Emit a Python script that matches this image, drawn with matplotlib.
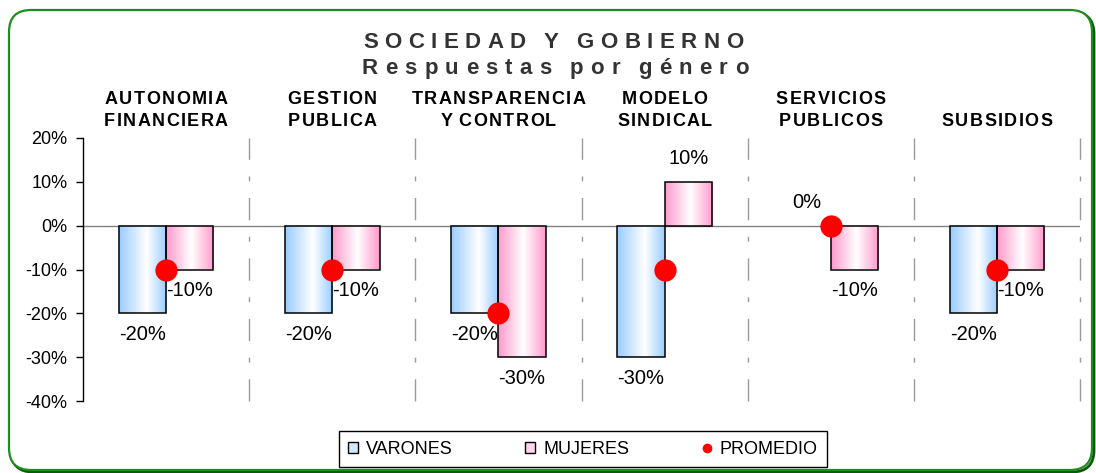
import numpy as np
import matplotlib
matplotlib.use("Agg")
import matplotlib.pyplot as plt
from matplotlib.patches import FancyBboxPatch, Patch
from matplotlib.lines import Line2D
from matplotlib.colors import LinearSegmentedColormap
from matplotlib.transforms import IdentityTransform

plt.rcParams["font.family"] = ["Liberation Sans", "DejaVu Sans"]

# data
categories = ["AUTONOMIA\nFINANCIERA", "GESTION\nPUBLICA", "TRANSPARENCIA\nY CONTROL",
              "MODELO\nSINDICAL", "SERVICIOS\nPUBLICOS", "SUBSIDIOS"]
varones = [-0.20, -0.20, -0.20, -0.30, 0.00, -0.20]
mujeres = [-0.10, -0.10, -0.30, 0.10, -0.10, -0.10]
promedio = [-0.10, -0.10, -0.20, -0.10, 0.00, -0.10]
yticks = [-0.4, -0.3, -0.2, -0.1, 0.0, 0.1, 0.2]
series_names = ["VARONES", "MUJERES", "PROMEDIO"]

W, H = 1096, 473
fig = plt.figure(figsize=(W / 100, H / 100), dpi=100)
fig.patch.set_facecolor("white")
ax = fig.add_axes([83 / W, (H - 401) / H, (1080 - 83) / W, (401 - 138) / H])

blue_cmap = LinearSegmentedColormap.from_list("blu", [(0, "#99ccff"), (0.58, "#ffffff"), (1, "#99ccff")])
pink_cmap = LinearSegmentedColormap.from_list("pnk", [(0, "#ff99cc"), (0.53, "#ffffff"), (1, "#ff99cc")])
grad = np.linspace(0, 1, 256).reshape(1, -1)

bw = 0.285
x = np.arange(len(categories)) + 0.5


def gradient_bars(xpos, vals, cmap):
    bars = ax.bar(xpos, vals, width=bw, align="edge", facecolor="none",
                  edgecolor="black", linewidth=1.1, zorder=3)
    for b in bars:
        x0, y0 = b.get_x(), b.get_y()
        if b.get_height() == 0:
            b.set_linewidth(0)
            continue
        im = ax.imshow(grad, cmap=cmap, aspect="auto", interpolation="bicubic",
                       extent=[x0, x0 + b.get_width(), y0, y0 + b.get_height()], zorder=2)
        im.set_clip_path(b)
    return bars


gradient_bars(x - bw, varones, blue_cmap)
gradient_bars(x, mujeres, pink_cmap)

ax.plot(x, promedio, linestyle="none", marker="o", markersize=16,
        color="#ff0000", markeredgewidth=0, zorder=5)

# data labels
for xs, vals in ((x - bw / 2, varones), (x + bw / 2, mujeres)):
    for xi, v in zip(xs, vals):
        off = 16.5 if v >= 0 else -15
        ax.annotate(f"{v * 100:.0f}%", (xi, v), xytext=(0, off), textcoords="offset points",
                    ha="center", va="center", fontsize=14.5, zorder=6)

ax.axhline(0, color="#808080", linewidth=1, zorder=1)
ax.vlines(np.arange(1, len(categories) + 1), -0.4, 0.2, colors="#9a9a9a", linewidth=1,
          linestyles=[(0, (16, 12, 3.5, 12))], clip_on=False, zorder=1)

ax.set_xlim(0, len(categories))
ax.set_ylim(-0.4, 0.2)
ax.set_yticks(yticks)
ax.set_yticklabels([f"{v * 100:.0f}%" for v in yticks])
ax.tick_params(axis="y", direction="out", length=5, width=1, pad=6, labelsize=13)
ax.tick_params(axis="x", bottom=False, labelbottom=False)
for s in ("top", "right", "bottom"):
    ax.spines[s].set_visible(False)
ax.spines["left"].set_linewidth(1)
ax.patch.set_alpha(0)


def tracked(s, xc, ybase, size, gap, word, **kw):
    # lay out one line letter by letter, with extra spacing, centred on xc (pixels)
    r = fig.canvas.get_renderer()
    items, cur, prev = [], 0.0, False
    for ch in s:
        if ch == " ":
            cur += word
            prev = False
            continue
        t = fig.text(0, 0, ch, fontsize=size, transform=IdentityTransform(),
                     ha="left", va="baseline", **kw)
        w = t.get_window_extent(r).width
        if prev:
            cur += gap
        items.append((t, cur))
        cur += w
        prev = True
    x0 = xc - cur / 2
    for t, pos in items:
        t.set_position((x0 + pos, H - ybase))


tracked("SOCIEDAD Y GOBIERNO", 553, 48, 16, 6.5, 18, fontweight="bold", color="#333333")
tracked("Respuestas por género", 555, 74, 16, 7.3, 18, fontweight="bold", color="#333333")

# category headers above the plot
for xi, c in zip(x, categories):
    xc = ax.transData.transform((xi, 0))[0]
    lines = c.split("\n")
    bases = [104, 126][-len(lines):]
    for ln, yb in zip(lines, bases):
        tracked(ln, xc, yb, 13, 1.4, 6, fontweight="bold", color="black")

handles = [Patch(facecolor="#d4e8ff", edgecolor="black", linewidth=1),
           Patch(facecolor="#ffd4ea", edgecolor="black", linewidth=1),
           Line2D([], [], linestyle="none", marker="o", markersize=7,
                  color="#ff0000", markeredgewidth=0)]
fig.legend(handles, series_names, loc="center", bbox_to_anchor=(583 / W, (H - 449) / H),
           ncol=3, fontsize=13, frameon=True, fancybox=False, edgecolor="black",
           handlelength=0.55, handleheight=0.55, handletextpad=0.45, columnspacing=4.0,
           borderpad=0.5, framealpha=1)

# rounded green frame with darker shadow, kept behind the axes
fig.patches.append(FancyBboxPatch((11, 1), 1083, 460, boxstyle="round,pad=0,rounding_size=22",
                                  transform=IdentityTransform(), facecolor="none",
                                  edgecolor="#0b5a0b", linewidth=2, zorder=-2))
fig.patches.append(FancyBboxPatch((9, 3), 1083, 460, boxstyle="round,pad=0,rounding_size=22",
                                  transform=IdentityTransform(), facecolor="white",
                                  edgecolor="#1e8c1e", linewidth=1.6, zorder=-1))

fig.savefig("out.png", dpi=100)
